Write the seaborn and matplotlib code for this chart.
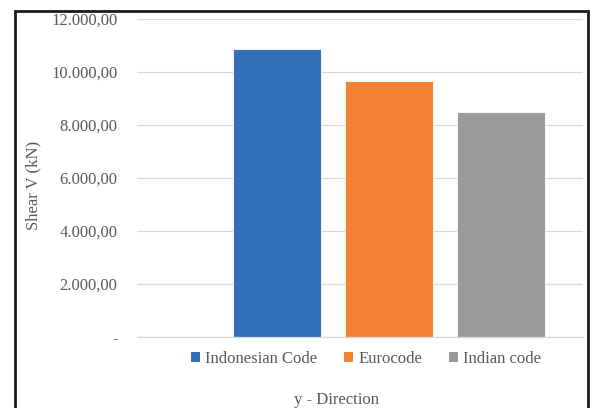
import matplotlib
matplotlib.use("Agg")
import matplotlib.pyplot as plt
import seaborn as sns
import pandas as pd
from matplotlib.patches import Rectangle
from matplotlib.ticker import FuncFormatter

codes = ["Indonesian Code", "Eurocode", "Indian code"]
shear_kn = [10857, 9665, 8480]
colors = ["#3470b7", "#f28234", "#999b9b"]
y_ticks = [0, 2000, 4000, 6000, 8000, 10000, 12000]

df = pd.DataFrame({"code": codes, "shear": shear_kn})

sns.set_theme(style="white")
plt.rcParams["font.family"] = ["Liberation Serif", "DejaVu Serif"]

W, H = 590, 408
fig = plt.figure(figsize=(W / 100, H / 100), dpi=100)
fig.patch.set_facecolor("white")

# plot area in pixel units
left, right, top, bottom = 137, 583, 19, 337
ax = fig.add_axes([left / W, 1 - bottom / H, (right - left) / W, (bottom - top) / H])

sns.barplot(data=df, x="code", y="shear", hue="code", palette=colors,
            order=codes, hue_order=codes, width=0.786, dodge=False,
            saturation=1, edgecolor="#ffffff", linewidth=0.6, legend=False, ax=ax)

ax.set_xlim(-1.25, 2.73)
ax.set_ylim(0, 12000)
ax.set_yticks(y_ticks)


def fmt(v, _):
    if v == 0:
        return "-"
    s = f"{v:,.2f}"
    return s.replace(",", "X").replace(".", ",").replace("X", ".")


ax.yaxis.set_major_formatter(FuncFormatter(fmt))
ax.tick_params(axis="y", length=0, pad=14, labelsize=12, labelcolor="#595959")
ax.set_xticks([])
ax.set_xlabel("")
ax.set_ylabel("")
ax.grid(axis="y", color="#d9d9d9", linewidth=0.9)
ax.set_axisbelow(True)
for side in ["left", "right", "top"]:
    ax.spines[side].set_visible(False)
ax.spines["bottom"].set_color("#d9d9d9")
ax.spines["bottom"].set_linewidth(0.9)

# legend below the plot
handles = [Rectangle((0, 0), 1, 1, facecolor=c, edgecolor="none") for c in colors]
fig.legend(handles, codes, loc="center", bbox_to_anchor=(366 / W, 1 - 359 / H),
           ncol=3, frameon=False, fontsize=12, labelcolor="#595959",
           handlelength=0.55, handleheight=0.55, handletextpad=0.3,
           columnspacing=1.6)

fig.text(336 / W, 1 - 400 / H, "y - Direction", ha="center", va="center",
         fontsize=12, color="#595959")
fig.text(33 / W, 1 - 185 / H, "Shear V (kN)", ha="center", va="center",
         rotation=90, fontsize=12, color="#595959")

# chart frame
fig.patches.append(Rectangle((15 / W, -0.05), (588 - 15) / W, 1.05 - 11 / H,
                             transform=fig.transFigure, fill=False,
                             edgecolor="#1a1a1a", linewidth=2))

fig.savefig("out.png", dpi=100)
